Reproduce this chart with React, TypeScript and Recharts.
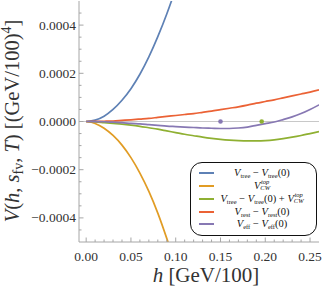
import React from 'react';
import { ComposedChart, Line, Scatter, XAxis, YAxis, ReferenceLine, Legend } from 'recharts';

const hValues = [0, 0.01, 0.02, 0.03, 0.04, 0.05, 0.06, 0.07, 0.08, 0.09, 0.1, 0.11, 0.12, 0.13, 0.14, 0.15, 0.16, 0.17, 0.18, 0.19, 0.2, 0.21, 0.22, 0.23, 0.24, 0.25, 0.26];

// V_tree - V_tree(0)
const treeValues = [0, 0.0000055, 0.000022, 0.00005, 0.000088, 0.000136, 0.000196, 0.000268, 0.000352, 0.000446, 0.000552, 0.00067, 0.0008];
// V_CW^top
const cwTopValues = [0, -0.000008, -0.000028, -0.000058, -0.000098, -0.00015, -0.000214, -0.00029, -0.00038, -0.000485, -0.0006, -0.00073];
// V_tree - V_tree(0) + V_CW^top
const treeCwValues = [0, -0.000002, -0.000005, -0.000008, -0.000011, -0.000015, -0.00002, -0.000026, -0.000032, -0.000039, -0.000046, -0.000053, -0.000059, -0.000065, -0.00007, -0.000074, -0.000077, -0.000079, -0.00008, -0.00008, -0.000079, -0.000076, -0.000071, -0.000065, -0.000058, -0.00005, -0.000042];
// V_rest - V_rest(0)
const restValues = [0, 0.0000003, 0.000001, 0.000002, 0.0000045, 0.000007, 0.00001, 0.000013, 0.000017, 0.000021, 0.000025, 0.000029, 0.000033, 0.000038, 0.000043, 0.000049, 0.000055, 0.000061, 0.000068, 0.000076, 0.000083, 0.00009, 0.000098, 0.000106, 0.000114, 0.000122, 0.000131];
// V_eff - V_eff(0)
const effValues = [0, -0.0000005, -0.000001, -0.000003, -0.000005, -0.000008, -0.00001, -0.000013, -0.000016, -0.000019, -0.000021, -0.000023, -0.000025, -0.000027, -0.000028, -0.000029, -0.000029, -0.000027, -0.000023, -0.000016, -0.000009, -0.000002, 0.000008, 0.000019, 0.000033, 0.00005, 0.000069];

const effMinimum = [{ h: 0.15, v: 0 }];
const treeCwMinimum = [{ h: 0.196, v: 0 }];

const xTicks = [0, 0.01, 0.02, 0.03, 0.04, 0.05, 0.06, 0.07, 0.08, 0.09, 0.1, 0.11, 0.12, 0.13, 0.14, 0.15, 0.16, 0.17, 0.18, 0.19, 0.2, 0.21, 0.22, 0.23, 0.24, 0.25];
const xMajorTicks = [0, 0.05, 0.1, 0.15, 0.2, 0.25];
const xTickLabels = ['0.00', '0.05', '0.10', '0.15', '0.20', '0.25'];
const yTicks = [-0.00045, -0.0004, -0.00035, -0.0003, -0.00025, -0.0002, -0.00015, -0.0001, -0.00005, 0, 0.00005, 0.0001, 0.00015, 0.0002, 0.00025, 0.0003, 0.00035, 0.0004, 0.00045];
const yMajorTicks = [-0.0004, -0.0002, 0, 0.0002, 0.0004];
const yTickLabels = ['\u22120.0004', '\u22120.0002', '0.0000', '0.0002', '0.0004'];

const C = {
  blue: '#5E81B5',
  orange: '#E19C24',
  green: '#8FB032',
  red: '#EB6235',
  purple: '#8778B3',
};
const frameColor = '#a6a6a6';
const textColor = '#333';
const serif = '"Liberation Serif", "Times New Roman", serif';

const data = hValues.map((h, i) => ({
  h,
  tree: treeValues[i] ?? null,
  cwTop: cwTopValues[i] ?? null,
  treeCw: treeCwValues[i] ?? null,
  rest: restValues[i] ?? null,
  eff: effValues[i] ?? null,
}));

const idxOf = (arr: number[], v: number) => arr.findIndex((t) => Math.abs(t - v) < 1e-12);

const XTickBottom = (p: any) => {
  const { x, y, payload } = p;
  const i = idxOf(xMajorTicks, payload.value);
  return (
    <g>
      <line x1={x} x2={x} y1={y} y2={y - (i >= 0 ? 4.5 : 2.5)} stroke={frameColor} strokeWidth={1} />
      {i >= 0 && (
        <text x={x} y={y + 19} textAnchor="middle" fontSize={13.5} fontFamily={serif} fill={textColor}>
          {xTickLabels[i]}
        </text>
      )}
    </g>
  );
};
const XTickTop = (p: any) => {
  const { x, y, payload } = p;
  const i = idxOf(xMajorTicks, payload.value);
  return <line x1={x} x2={x} y1={y} y2={y + (i >= 0 ? 4.5 : 2.5)} stroke={frameColor} strokeWidth={1} />;
};
const YTickLeft = (p: any) => {
  const { x, y, payload } = p;
  const i = idxOf(yMajorTicks, payload.value);
  return (
    <g>
      <line x1={x} x2={x + (i >= 0 ? 4.5 : 2.5)} y1={y} y2={y} stroke={frameColor} strokeWidth={1} />
      {i >= 0 && (
        <text x={x - 3} y={y + 4.5} textAnchor="end" fontSize={13.5} fontFamily={serif} fill={textColor}>
          {yTickLabels[i]}
        </text>
      )}
    </g>
  );
};
const YTickRight = (p: any) => {
  const { x, y, payload } = p;
  const i = idxOf(yMajorTicks, payload.value);
  return <line x1={x} x2={x - (i >= 0 ? 4.5 : 2.5)} y1={y} y2={y} stroke={frameColor} strokeWidth={1} />;
};

const renderYLabel = () => (
  <text
    x={19}
    y={121}
    transform="rotate(-90, 19, 121)"
    textAnchor="middle"
    fontSize={20.5}
    fontFamily={serif}
    fill={textColor}
  >
    <tspan fontStyle="italic">V</tspan>
    <tspan>(</tspan>
    <tspan fontStyle="italic">h</tspan>
    <tspan>, </tspan>
    <tspan fontStyle="italic">s</tspan>
    <tspan fontSize={14} dy={4}>fv</tspan>
    <tspan dy={-4}>, </tspan>
    <tspan fontStyle="italic">T</tspan>
    <tspan>) [(GeV/100)</tspan>
    <tspan fontSize={14} dy={-8}>4</tspan>
    <tspan dy={8}>]</tspan>
  </text>
);

const renderXLabel = () => (
  <text x={206} y={282} textAnchor="middle" fontSize={21} fontFamily={serif} fill={textColor}>
    <tspan fontStyle="italic">h</tspan>
    <tspan> [GeV/100]</tspan>
  </text>
);

const sub: React.CSSProperties = { fontSize: 6.5, fontStyle: 'normal', verticalAlign: '-2px', lineHeight: 0 };
const V = () => <span style={{ fontStyle: 'italic' }}>V</span>;
const Vs = ({ s }: { s: string }) => (
  <>
    <V />
    <span style={sub}>{s}</span>
  </>
);
const VCW = () => (
  <>
    <V />
    <span
      style={{
        display: 'inline-flex',
        flexDirection: 'column',
        verticalAlign: 'middle',
        lineHeight: '6px',
        fontSize: 6.5,
        fontStyle: 'italic',
        marginTop: -2,
      }}
    >
      <span>top</span>
      <span>CW</span>
    </span>
  </>
);

const legendRows = [
  { color: C.blue, top: 10, label: <><Vs s="tree" /> {'\u2212'} <Vs s="tree" />(0)</> },
  { color: C.orange, top: 22.5, label: <VCW /> },
  { color: C.green, top: 35.5, label: <><Vs s="tree" /> {'\u2212'} <Vs s="tree" />(0) + <VCW /></> },
  { color: C.red, top: 48.5, label: <><Vs s="rest" /> {'\u2212'} <Vs s="rest" />(0)</> },
  { color: C.purple, top: 61, label: <><Vs s="eff" /> {'\u2212'} <Vs s="eff" />(0)</> },
];

const renderLegend = () => (
  <div
    style={{
      position: 'relative',
      width: 127,
      height: 74,
      boxSizing: 'border-box',
      border: '1px solid #111',
      borderRadius: 12,
      background: '#fff',
      fontFamily: serif,
      fontSize: 10.5,
      color: '#111',
    }}
  >
    {legendRows.map((r, i) => (
      <div key={i}>
        <div style={{ position: 'absolute', left: 8, top: r.top - 1, width: 15, height: 2, background: r.color }} />
        <div
          style={{
            position: 'absolute',
            left: 16,
            width: 110,
            top: r.top - 6,
            height: 12,
            lineHeight: '12px',
            textAlign: 'center',
            whiteSpace: 'nowrap',
          }}
        >
          {r.label}
        </div>
      </div>
    ))}
  </div>
);

export default function App() {
  return (
    <div style={{ position: 'absolute', left: 0, top: 0, width: 325, height: 293, background: '#fff' }}>
      <ComposedChart width={325} height={293} data={data} margin={{ top: 1, right: 6, bottom: 0, left: 0 }}>
        <XAxis
          dataKey="h"
          type="number"
          domain={[-0.008, 0.26]}
          ticks={xTicks}
          interval={0}
          tickSize={0}
          tickMargin={0}
          height={51}
          allowDataOverflow
          axisLine={{ stroke: frameColor }}
          tickLine={false}
          tick={(p: any) => <XTickBottom {...p} />}
          label={{ value: 'h [GeV/100]', content: renderXLabel }}
        />
        <XAxis
          xAxisId="top"
          orientation="top"
          dataKey="h"
          type="number"
          domain={[-0.008, 0.26]}
          ticks={xTicks}
          interval={0}
          tickSize={0}
          tickMargin={0}
          height={0}
          allowDataOverflow
          axisLine={{ stroke: frameColor }}
          tickLine={false}
          tick={(p: any) => <XTickTop {...p} />}
        />
        <YAxis
          type="number"
          domain={[-0.0005, 0.0005]}
          ticks={yTicks}
          interval={0}
          tickSize={0}
          tickMargin={0}
          width={79}
          allowDataOverflow
          axisLine={{ stroke: frameColor }}
          tickLine={false}
          tick={(p: any) => <YTickLeft {...p} />}
          label={{ value: 'V(h, s_fv, T) [(GeV/100)^4]', content: renderYLabel }}
        />
        <YAxis
          yAxisId="right"
          orientation="right"
          type="number"
          domain={[-0.0005, 0.0005]}
          ticks={yTicks}
          interval={0}
          tickSize={0}
          tickMargin={0}
          width={0}
          allowDataOverflow
          axisLine={{ stroke: frameColor }}
          tickLine={false}
          tick={(p: any) => <YTickRight {...p} />}
        />
        <ReferenceLine y={0} stroke="#c8c8c8" strokeWidth={1} />
        <Line dataKey="tree" stroke={C.blue} strokeWidth={1.7} dot={false} isAnimationActive={false} type="monotone" />
        <Line dataKey="cwTop" stroke={C.orange} strokeWidth={1.7} dot={false} isAnimationActive={false} type="monotone" />
        <Line dataKey="treeCw" stroke={C.green} strokeWidth={1.7} dot={false} isAnimationActive={false} type="monotone" />
        <Line dataKey="rest" stroke={C.red} strokeWidth={1.7} dot={false} isAnimationActive={false} type="monotone" />
        <Line dataKey="eff" stroke={C.purple} strokeWidth={1.7} dot={false} isAnimationActive={false} type="monotone" />
        <Scatter data={effMinimum} dataKey="v" fill={C.purple} isAnimationActive={false} shape={(p: any) => <circle cx={p.cx} cy={p.cy} r={2.3} fill={C.purple} />} />
        <Scatter data={treeCwMinimum} dataKey="v" fill={C.green} isAnimationActive={false} shape={(p: any) => <circle cx={p.cx} cy={p.cy} r={2.3} fill={C.green} />} />
        <Legend
          layout="vertical"
          align="center"
          verticalAlign="middle"
          content={renderLegend}
          wrapperStyle={{ position: 'absolute', left: 190, top: 162, width: 127, height: 74 }}
        />
      </ComposedChart>
    </div>
  );
}
